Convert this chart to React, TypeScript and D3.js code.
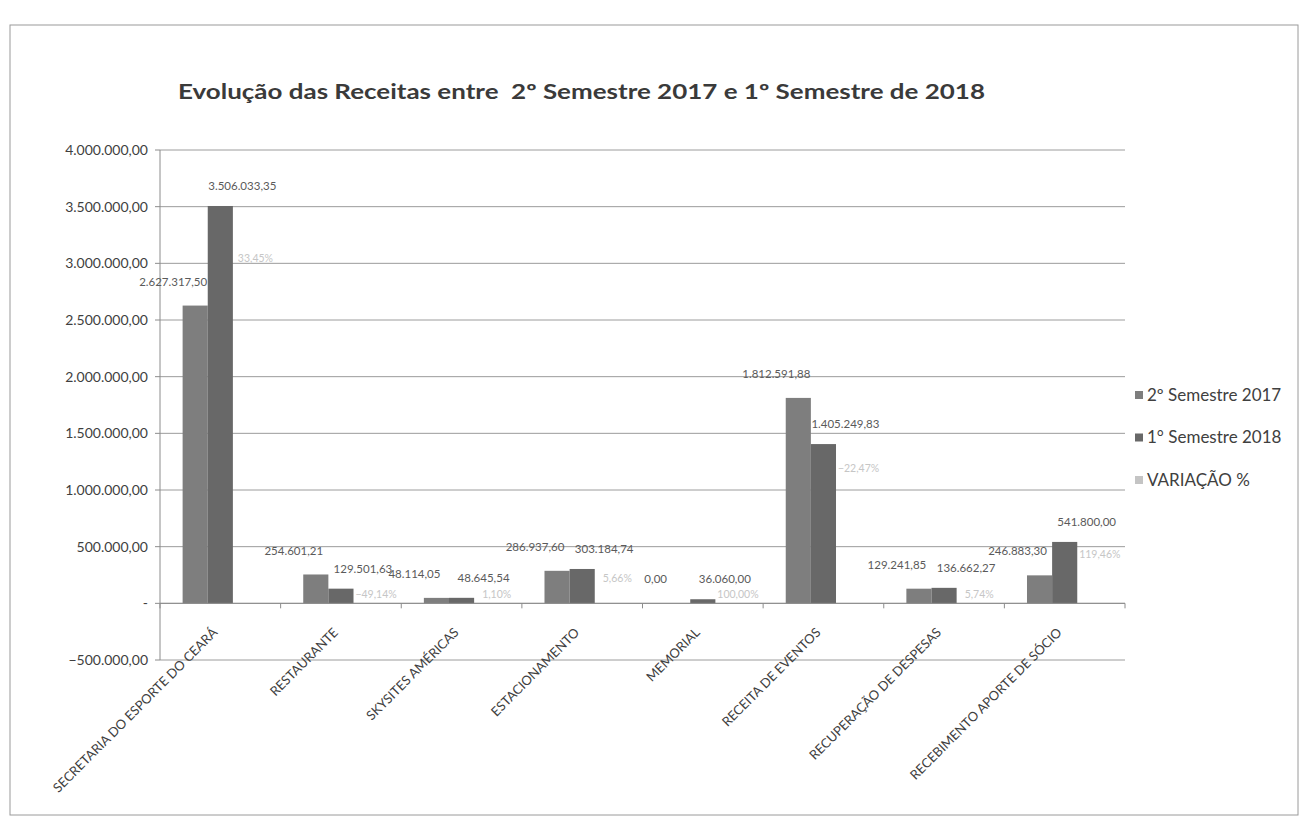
import React from "react";
import * as d3 from "d3";

const categories = [
  "SECRETARIA DO ESPORTE DO CEARÁ",
  "RESTAURANTE",
  "SKYSITES AMÉRICAS",
  "ESTACIONAMENTO",
  "MEMORIAL",
  "RECEITA DE EVENTOS",
  "RECUPERAÇÃO DE DESPESAS",
  "RECEBIMENTO APORTE DE SÓCIO",
];
const sem2017 = [2627317.5, 254601.21, 48114.05, 286937.6, 0, 1812591.88, 129241.85, 246883.3];
const sem2018 = [3506033.35, 129501.63, 48645.54, 303184.74, 36060.0, 1405249.83, 136662.27, 541800.0];
const variacao = [0.3345, -0.4914, 0.011, 0.0566, 1.0, -0.2247, 0.0574, 1.1946];
const seriesNames = ["2º Semestre 2017", "1° Semestre 2018", "VARIAÇÃO %"];
const yTicks = [-500000, 0, 500000, 1000000, 1500000, 2000000, 2500000, 3000000, 3500000, 4000000];
const title = "Evolução das Receitas entre  2º Semestre 2017 e 1º Semestre de 2018";

const colors = ["#7e7e7e", "#686868", "#c4c4c4"];
const FONT = "Lato, 'Open Sans', sans-serif";

const locale = d3.formatLocale({ decimal: ",", thousands: ".", grouping: [3], currency: ["R$", ""] });
const fmtNum = locale.format(",.2f");
const fmtPct = locale.format(".2%");

export default function App() {
  const W = 1303, H = 821;
  const left = 160, right = 1125, top = 150, bottom = 660;
  const x = d3.scaleBand<string>().domain(categories).range([left, right]).paddingInner(0).paddingOuter(0);
  const y = d3.scaleLinear().domain([-500000, 4000000]).range([bottom, top]);
  const bw = x.bandwidth();
  const barW = bw / 4.8;
  const groupStart = (c: string) => (x(c) as number) + (bw - 3 * barW) / 2;
  const y0 = y(0);

  const series = [sem2017, sem2018, variacao];

  return (
    <svg width={W} height={H} style={{ display: "block", position: "absolute", left: 0, top: 0, background: "#fff" }}>
      <rect x={10} y={25} width={1288} height={790} fill="#fff" stroke="#9a9a9a" strokeWidth={1} />
      <text x={178} y={99} fontFamily={FONT} fontWeight={700} fontSize={20} fill="#3a3a3a"
        textLength={807} lengthAdjust="spacingAndGlyphs" style={{ whiteSpace: "pre" }}>{title}</text>

      {/* gridlines */}
      {yTicks.map((t) => (
        <line key={"g" + t} x1={left} x2={right} y1={y(t)} y2={y(t)} stroke="#9c9c9c" strokeWidth={1} />
      ))}
      {/* y axis */}
      <line x1={left} x2={left} y1={top} y2={bottom} stroke="#8c8c8c" />
      {yTicks.map((t) => (
        <g key={"t" + t}>
          <line x1={left - 5} x2={left} y1={y(t)} y2={y(t)} stroke="#8c8c8c" />
          <text x={left - 12} y={y(t)} dy="0.35em" textAnchor="end" fontFamily={FONT} fontSize={14} fill="#3f3f3f">
            {t === 0 ? "-" : fmtNum(t)}
          </text>
        </g>
      ))}

      {/* bars */}
      {series.map((vals, si) =>
        categories.map((c, i) => {
          const v = vals[i];
          const bx = groupStart(c) + si * barW;
          const yv = y(v);
          return (
            <rect key={`b${si}-${i}`} x={bx} y={Math.min(yv, y0)} width={barW}
              height={Math.abs(y0 - yv)} fill={colors[si]} />
          );
        })
      )}

      {/* x axis */}
      <line x1={left} x2={right} y1={y0} y2={y0} stroke="#8c8c8c" />
      {categories.map((c) => (
        <line key={"xt" + c} x1={(x(c) as number) + bw} x2={(x(c) as number) + bw} y1={y0} y2={y0 + 5} stroke="#8c8c8c" />
      ))}
      <line x1={left} x2={left} y1={y0} y2={y0 + 5} stroke="#8c8c8c" />

      {/* category labels */}
      {categories.map((c) => {
        const cx = (x(c) as number) + bw / 2;
        return (
          <text key={"xl" + c} transform={`translate(${cx - 2},${y0 + 30}) rotate(-45)`} textAnchor="end"
            fontFamily={FONT} fontSize={13} fill="#404040">{c}</text>
        );
      })}

      {/* value labels */}
      {categories.map((c, i) => {
        const b0 = groupStart(c) + barW / 2;
        const b1 = b0 + barW;
        const b2 = b1 + barW;
        const t0 = y(sem2017[i]);
        const t1 = y(sem2018[i]);
        const pctY = Math.min(t1 + 0.12 * (y0 - t1) + 5, y0 - 9);
        return (
          <g key={"vl" + i} fontFamily={FONT} fontSize={11.5}>
            <text x={b0 - 22} y={t0 - 24} dy="0.35em" textAnchor="middle" fill="#5a5a5a">{fmtNum(sem2017[i])}</text>
            <text x={b1 + 22} y={t1 - 20} dy="0.35em" textAnchor="middle" fill="#5a5a5a">{fmtNum(sem2018[i])}</text>
            <text x={b2 + 10} y={pctY} dy="0.35em" textAnchor="middle" fill="#c6c6c6" fontSize={10.5}>{fmtPct(variacao[i])}</text>
          </g>
        );
      })}

      {/* legend */}
      {seriesNames.map((n, i) => {
        const ly = 395 + i * 42.5;
        return (
          <g key={"lg" + i}>
            <rect x={1135} y={ly - 4} width={8} height={8} fill={colors[i]} />
            <text x={1147} y={ly} dy="0.35em" fontFamily={FONT} fontSize={17} fill="#404040">{n}</text>
          </g>
        );
      })}
    </svg>
  );
}
